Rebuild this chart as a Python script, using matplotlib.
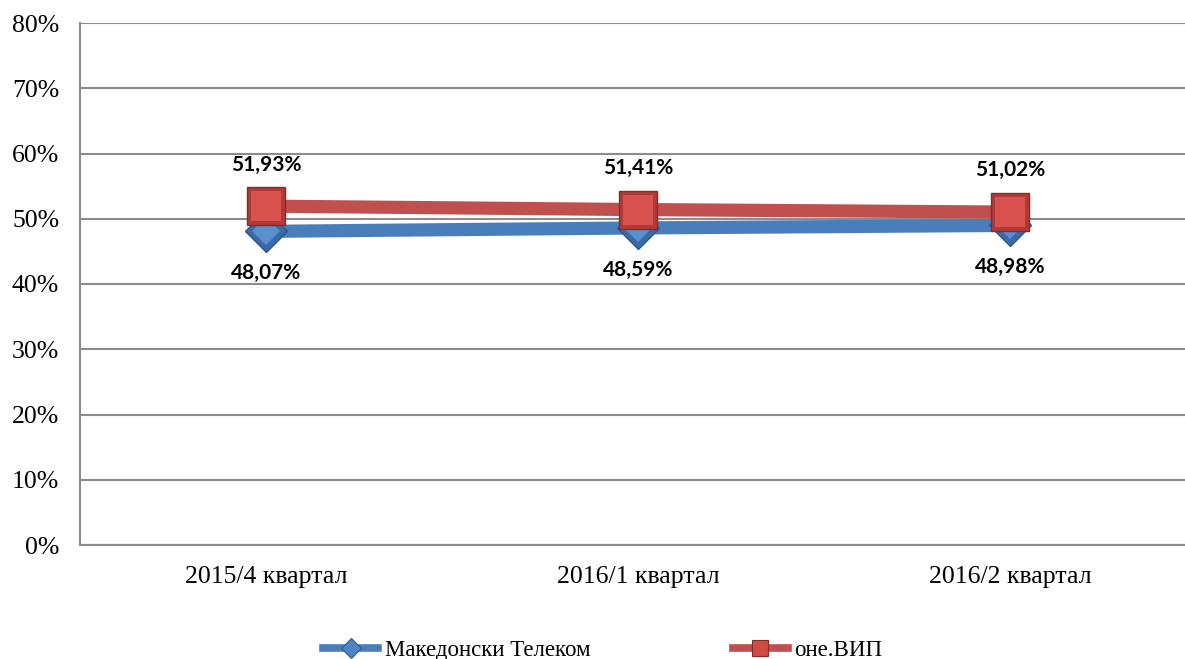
import matplotlib
matplotlib.use("Agg")
import matplotlib.pyplot as plt
from matplotlib.lines import Line2D
from matplotlib.ticker import PercentFormatter

# Data
quarters = ["2015/4 квартал", "2016/1 квартал", "2016/2 квартал"]
telekom = [48.07, 48.59, 48.98]
vip = [51.93, 51.41, 51.02]
series_names = ["Македонски Телеком", "оне.ВИП"]

blue = "#4a7ebb"
red = "#c0504d"
grid_col = "#8c8c8c"

fig = plt.figure(figsize=(11.85, 6.59), dpi=100)
ax = fig.add_axes([80 / 1185, 1 - 545 / 659, 1116 / 1185, 522 / 659])

x = list(range(len(quarters)))
y_tel = [v / 100 for v in telekom]
y_vip = [v / 100 for v in vip]

# blue series with bevelled diamond markers
ax.plot(x, y_tel, color=blue, lw=9.5, solid_capstyle="butt", zorder=3)
ax.plot(x, y_tel, ls="none", marker="D", markersize=21, markerfacecolor="#3b6aa6",
        markeredgecolor="#2c5a8f", markeredgewidth=1.0, zorder=3.1)
ax.plot(x, y_tel, ls="none", marker="D", markersize=14, markerfacecolor="#5a8fd0",
        markeredgewidth=0, zorder=3.2)

# red series with bevelled square markers
ax.plot(x, y_vip, color=red, lw=9.5, solid_capstyle="butt", zorder=4)
ax.plot(x, y_vip, ls="none", marker="s", markersize=28, markerfacecolor="#b03a37",
        markeredgecolor="#8a2a27", markeredgewidth=1.0, zorder=4.1)
ax.plot(x, y_vip, ls="none", marker="s", markersize=21, markerfacecolor="#da524e",
        markeredgewidth=0, zorder=4.2)

for xi, v in zip(x, telekom):
    ax.annotate(f"{v:.2f}%".replace(".", ","), (xi, v / 100), xytext=(0, -30),
                textcoords="offset points", ha="center", va="center",
                fontsize=15, fontweight="bold", family="Lato", color="black")
for xi, v in zip(x, vip):
    ax.annotate(f"{v:.2f}%".replace(".", ","), (xi, v / 100), xytext=(0, 30),
                textcoords="offset points", ha="center", va="center",
                fontsize=15, fontweight="bold", family="Lato", color="black")

ax.set_xlim(-0.5, len(quarters) - 0.5)
ax.set_ylim(0, 0.8)
ax.set_yticks([i / 10 for i in range(9)])
ax.yaxis.set_major_formatter(PercentFormatter(1.0, decimals=0))
ax.set_xticks(x)
ax.set_xticklabels(quarters)
for lab in ax.get_xticklabels() + ax.get_yticklabels():
    lab.set_family("Liberation Serif")
    lab.set_fontsize(18.5)
ax.tick_params(axis="y", length=0, pad=15)
ax.tick_params(axis="x", length=0, pad=15)

ax.grid(axis="y", color=grid_col, lw=1.5)
ax.set_axisbelow(True)
for s in ["top", "right"]:
    ax.spines[s].set_visible(False)
ax.spines["left"].set_color(grid_col)
ax.spines["left"].set_linewidth(1.5)
ax.spines["bottom"].set_color(grid_col)
ax.spines["bottom"].set_linewidth(1.5)

handles = [
    Line2D([], [], color=blue, lw=5.5, marker="D", markersize=10,
           markerfacecolor="#4f84c4", markeredgecolor="#2c5a8f", markeredgewidth=0.8),
    Line2D([], [], color=red, lw=5.5, marker="s", markersize=12,
           markerfacecolor="#d04a46", markeredgecolor="#8a2a27", markeredgewidth=0.8),
]
fig.legend(handles, series_names, loc="center", bbox_to_anchor=(603 / 1185, 1 - 650 / 659),
           ncol=2, frameon=False, prop={"family": "Liberation Serif", "size": 16.5},
           handlelength=2.4, handletextpad=0.3, columnspacing=6.2)

fig.savefig("out.png", dpi=100)
